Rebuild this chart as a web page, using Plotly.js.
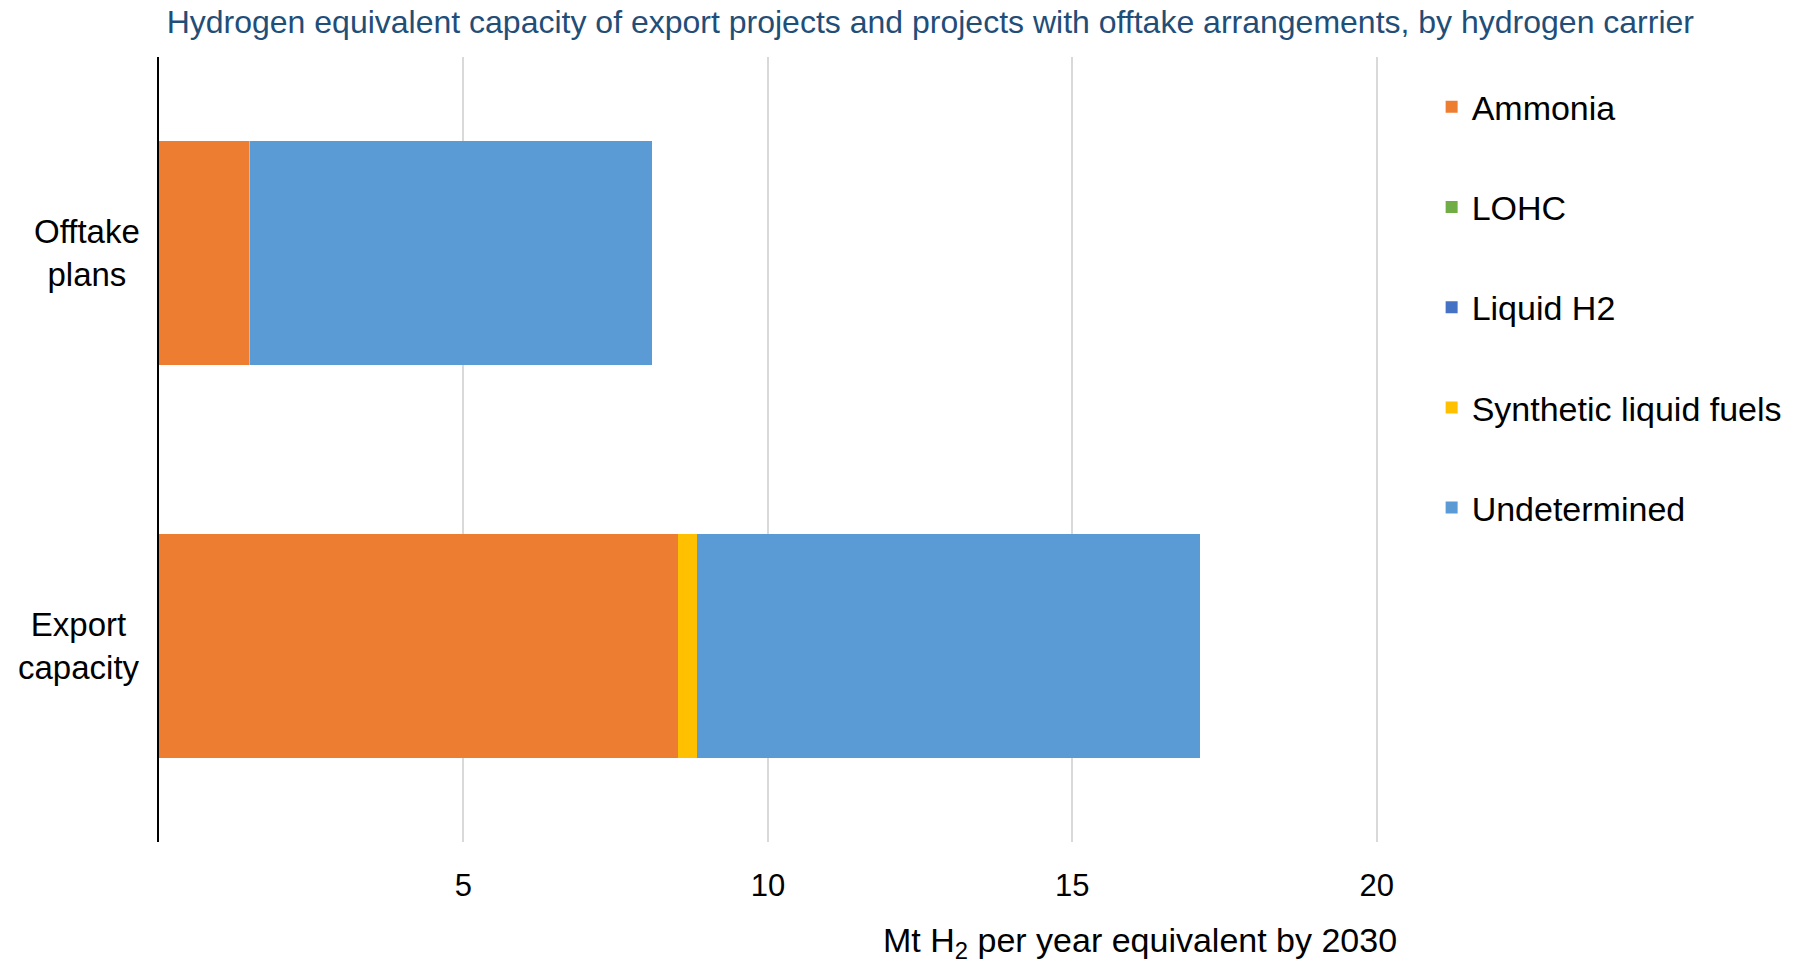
<!DOCTYPE html>
<html>
<head>
<meta charset="utf-8">
<script src="https://cdn.plot.ly/plotly-3.0.1.min.js"></script>
<style>html,body{margin:0;padding:0;background:#fff;}#chart{width:1796px;height:963px;}</style>
</head>
<body>
<div id="chart"></div>
<script>
// Data
const categories = ['Offtake plans', 'Export capacity'];
const categoryLabels = ['Offtake<br>plans', 'Export<br>capacity'];
const seriesNames = ['Ammonia', 'LOHC', 'Liquid H2', 'Synthetic liquid fuels', 'Undetermined'];
const ammonia = [1.47, 8.53];
const lohc = [0, 0];
const liquidH2 = [0, 0];
const syntheticFuels = [0.03, 0.31];
const undetermined = [6.60, 8.26];
const xTicks = [5, 10, 15, 20];

const seriesValues = [ammonia, lohc, liquidH2, syntheticFuels, undetermined];
const colors = ['#ED7D31', '#70AD47', '#4472C4', '#FFC000', '#5B9BD5'];

const font = '"Liberation Sans", Arial, sans-serif';

const traces = seriesNames.map((name, i) => ({
  type: 'bar',
  orientation: 'h',
  name: name,
  y: categories,
  x: seriesValues[i],
  marker: {color: colors[i], line: {width: 0}},
  legendgroup: 'g' + i,
  hoverinfo: 'x+name'
}));

const annotations = categories.map((c, i) => ({
  xref: 'paper', yref: 'y',
  x: -0.0143, y: c,
  text: categoryLabels[i],
  showarrow: false,
  xanchor: 'right', yanchor: 'middle', align: 'center',
  font: {family: font, size: 33, color: '#000'}
}));
annotations.push({
  xref: 'paper', yref: 'paper',
  x: 1.017, y: -0.128,
  xanchor: 'right', yanchor: 'middle',
  text: 'Mt H<sub>2</sub> per year equivalent by 2030',
  showarrow: false,
  font: {family: font, size: 34, color: '#000'}
});

const layout = {
  width: 1796, height: 963,
  paper_bgcolor: '#fff', plot_bgcolor: '#fff',
  margin: {l: 159, r: 418, t: 57, b: 121, autoexpand: false},
  barmode: 'stack',
  bargap: 0.43,
  title: {
    text: 'Hydrogen equivalent capacity of export projects and projects with offtake arrangements, by hydrogen carrier',
    font: {family: font, size: 32, color: '#1F4E79'},
    x: 0.518, xanchor: 'center', xref: 'container',
    y: 0.977, yanchor: 'middle', yref: 'container'
  },
  xaxis: {
    range: [0, 20.02],
    tickvals: xTicks,
    ticktext: xTicks.map(String),
    showgrid: true, gridcolor: '#D9D9D9', gridwidth: 2,
    zeroline: false, showline: false,
    ticks: '',
    tickfont: {family: font, size: 31, color: '#000'},
    ticklabelstandoff: 22
  },
  yaxis: {
    type: 'category',
    autorange: 'reversed',
    showticklabels: false,
    showgrid: false, zeroline: false,
    showline: true, linecolor: '#000', linewidth: 2.5,
    ticks: ''
  },
  legend: {
    x: 1.044, xanchor: 'left',
    y: 0.973, yanchor: 'top',
    font: {family: font, size: 34, color: '#000'},
    traceorder: 'grouped',
    tracegroupgap: 53,
    itemwidth: 30,
    bgcolor: 'rgba(0,0,0,0)'
  },
  annotations: annotations,
  showlegend: true
};

Plotly.newPlot('chart', traces, layout, {displayModeBar: false, staticPlot: true});
</script>
</body>
</html>
